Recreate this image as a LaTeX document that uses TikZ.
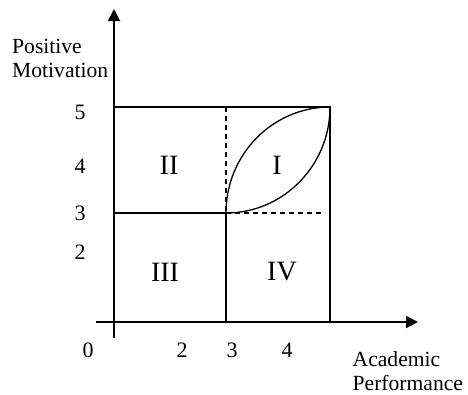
\documentclass[tikz,border=0pt]{standalone}
\usepackage{fontspec}
\setmainfont{Liberation Serif}
\usetikzlibrary{arrows.meta}

\begin{document}
\begin{tikzpicture}[x=1pt, y=-1pt,
  axis/.style={line width=1.9pt, -{Triangle[length=12pt, width=12pt]}},
  box/.style={line width=1.3pt},
  guide/.style={line width=1.3pt, dash pattern=on 5pt off 4pt},
  tick/.style={inner sep=0pt, font=\fontsize{22}{26}\selectfont},
  zone/.style={inner sep=0pt, font=\fontsize{28}{32}\selectfont},
  title/.style={inner sep=0pt, align=left, anchor=north west, font=\fontsize{21.6}{24.3}\selectfont}
]
  \useasboundingbox (0,0) rectangle (468,394);
  % axis ends and grid corners
  \coordinate (ybot) at (114,338);
  \coordinate (ytop) at (114,9);
  \coordinate (xleft) at (96,322);
  \coordinate (xright) at (418,322);
  \coordinate (tl) at (114,107);
  \coordinate (tm) at (226,107);
  \coordinate (tr) at (330,107);
  \coordinate (ml) at (114,213);
  \coordinate (mm) at (226,213);
  \coordinate (dashend) at (325,213);
  \coordinate (bm) at (226,322);
  \coordinate (br) at (330,322);

  % quadrants
  \draw[box] (tl) -- (tr) -- (br);
  \draw[box] (ml) -- (mm) -- (bm);
  \draw[guide] (tm) -- (mm);
  \draw[guide] (mm) -- (dashend);
  \draw[box] (mm) .. controls (226,154.5) and (272.6,107) .. (tr);
  \draw[box] (mm) .. controls (283.4,213) and (330,165.5) .. (tr);

  % axes
  \draw[axis] (ybot) -- (ytop);
  \draw[axis] (xleft) -- (xright);

  % tick labels
  \node[tick] (y5) at (80,112) {5};
  \node[tick] (y4) at (80,166) {4};
  \node[tick] (y3) at (80,213) {3};
  \node[tick] (y2) at (80,252) {2};
  \node[tick] (x0) at (88,350) {0};
  \node[tick] (x2) at (182,350) {2};
  \node[tick] (x3) at (232,350) {3};
  \node[tick] (x4) at (287,350) {4};

  % quadrant names
  \node[zone] (q1) at (277,165) {I};
  \node[zone] (q2) at (169,165) {II};
  \node[zone] (q3) at (165,272) {III};
  \node[zone] (q4) at (282,272) {IV};

  \node[title] (ylabel) at (12,38.8) {Positive\\Motivation};
  \node[title] (xlabel) at (352.5,351.5) {Academic\\Performance};
\end{tikzpicture}
\end{document}
